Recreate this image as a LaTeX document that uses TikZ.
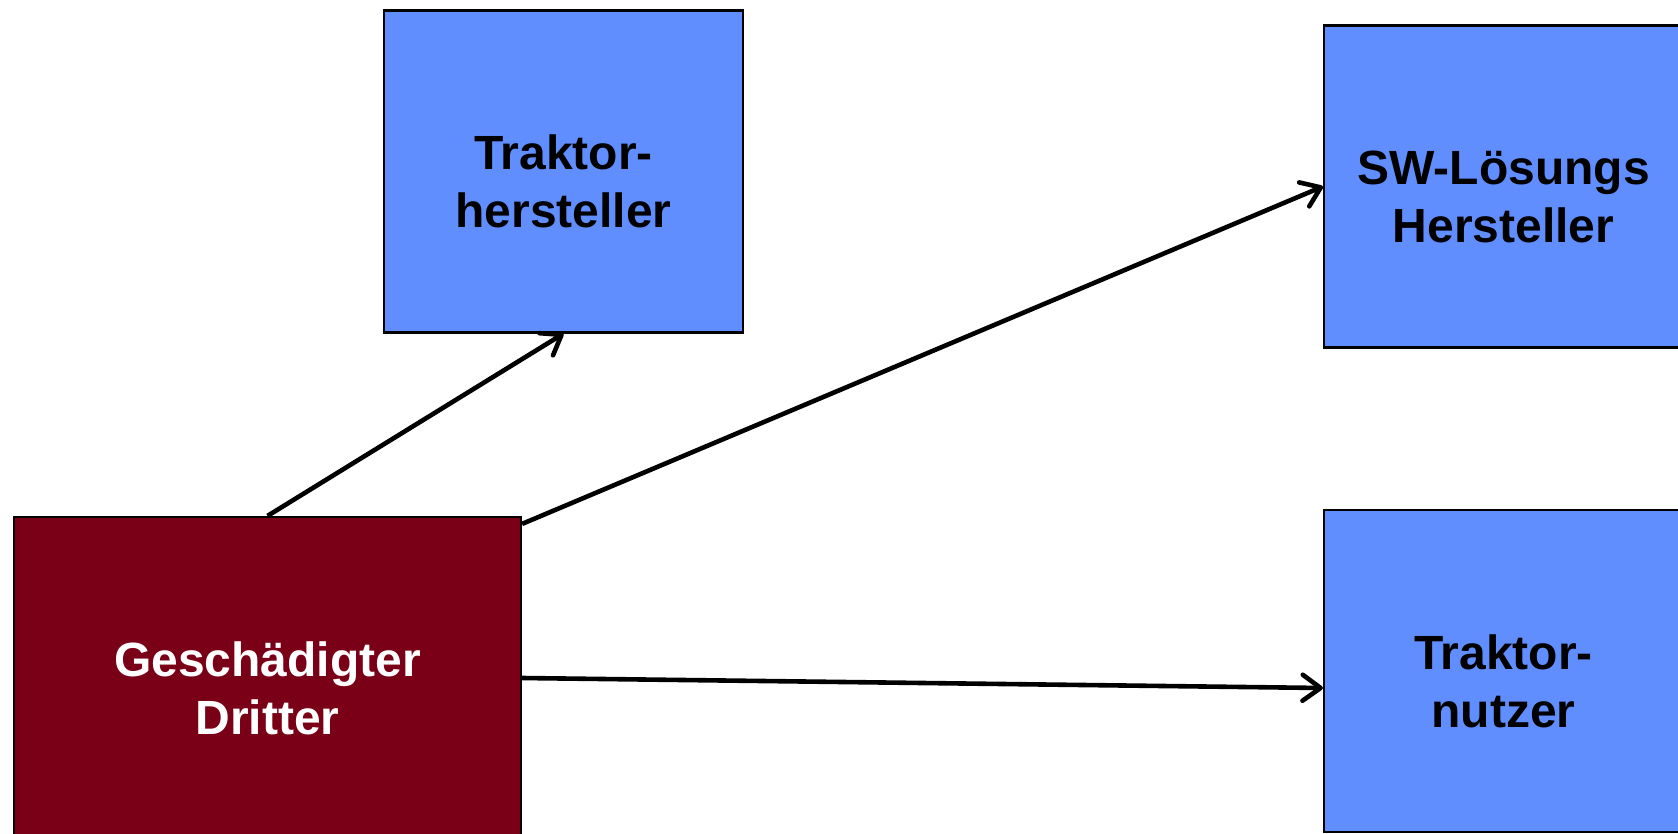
\documentclass[tikz,border=0pt]{standalone}
\usepackage{fontspec}
\setmainfont{Liberation Sans}
\usetikzlibrary{arrows.meta,calc}
\definecolor{boxblue}{RGB}{97,142,255}
\definecolor{boxred}{RGB}{121,0,22}
% two-line centred label, set a little below the middle of its box
\newcommand\boxlabel[1]{\raisebox{-15.5pt}[\height][\depth]{\begin{tabular}{@{}c@{}}#1\end{tabular}}}

\begin{document}
\begin{tikzpicture}[x=1pt,y=-1pt,
  party/.style={draw=black, line width=2.2pt, minimum width=359pt, minimum height=322pt,
    inner sep=0pt, font=\bfseries\fontsize{48}{58}\selectfont},
  bluebox/.style={party, fill=boxblue, text=black},
  redbox/.style={party, fill=boxred, text=white, minimum width=507pt},
  claim/.style={draw=black, line width=4.6pt, -{Straight Barb[length=18pt,width=26pt,round]}}]
\clip (0,0) rectangle (1678,834);

\node[bluebox] (th) at (563.5,171.5) {\boxlabel{Traktor-\\hersteller}};
\node[bluebox] (sw) at (1503.5,186.5) {\boxlabel{SW-Lösungs\\Hersteller}};
\node[bluebox] (tn) at (1503.5,671) {\boxlabel{Traktor-\\nutzer}};
\node[redbox]  (gd) at (267.5,678) {\boxlabel{Geschädigter\\Dritter}};

\coordinate (gdup) at ($(gd.north east)+(0,8)$);
\coordinate (tnin) at ($(tn.west)+(0,17)$);

\draw[claim] (gd.north) -- (th.south);
\draw[claim] (gdup) -- (sw.west);
\draw[claim] (gd.east) -- (tnin);
\end{tikzpicture}
\end{document}
